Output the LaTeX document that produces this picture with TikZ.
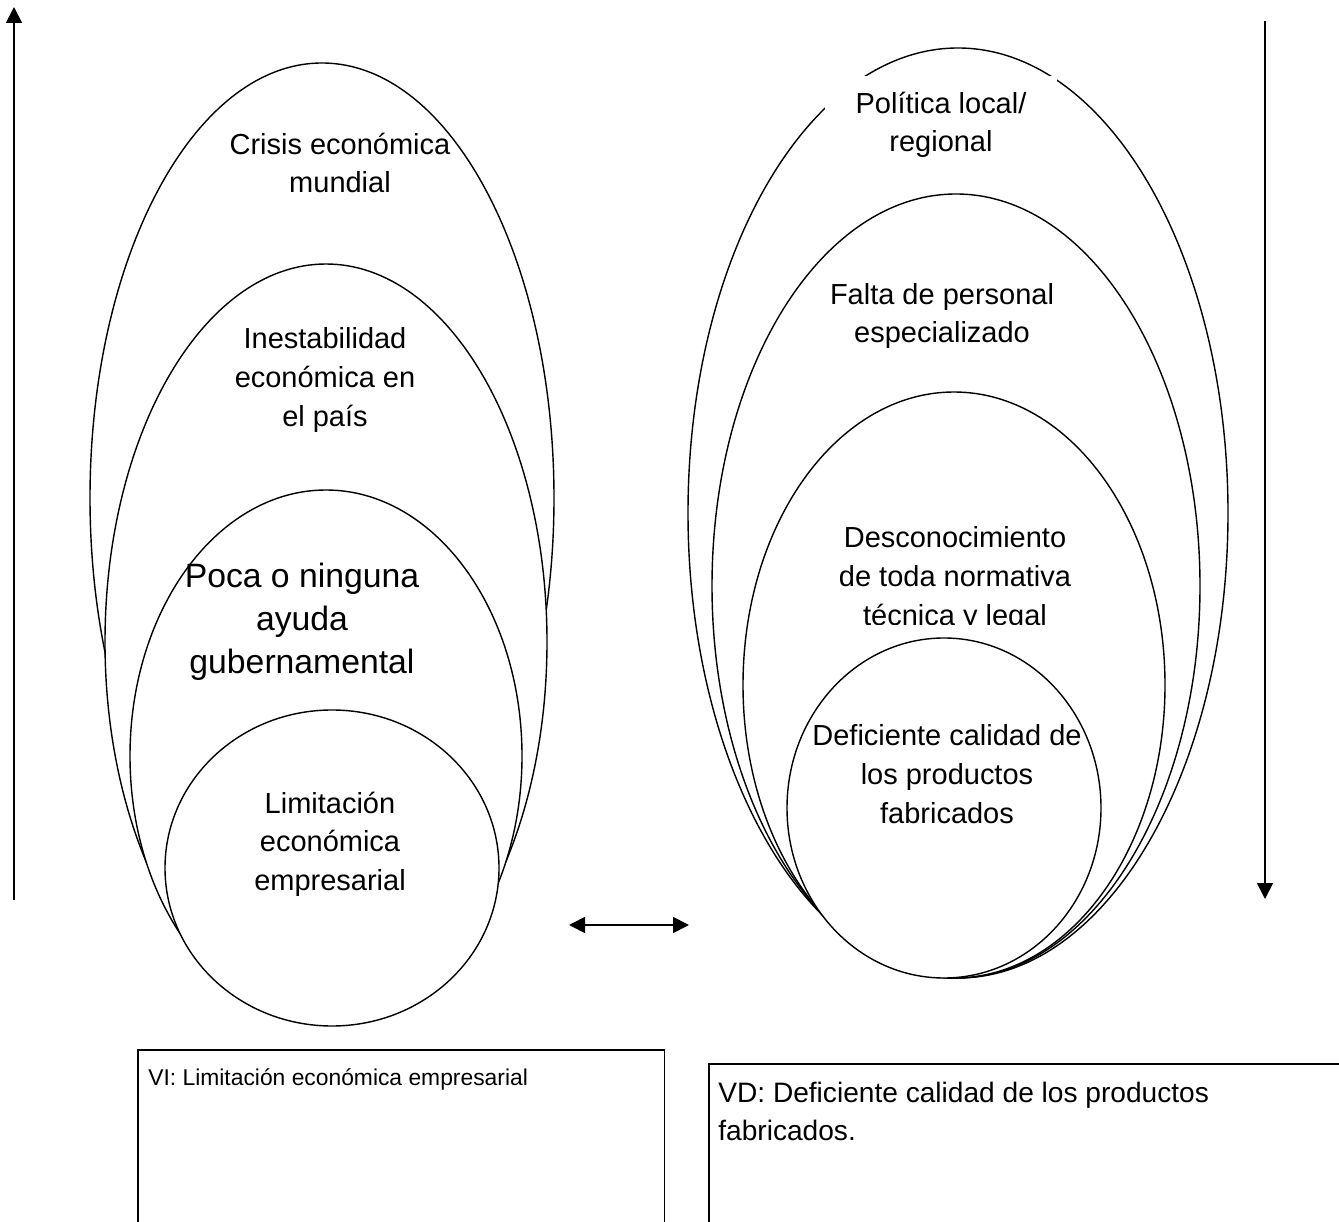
\documentclass[tikz,border=0pt]{standalone}
\usepackage{fontspec}
\setmainfont{Liberation Sans}
\usetikzlibrary{arrows.meta}

\tikzset{
  oval/.style={draw, fill=white, line width=0.8pt},
  ovaltext/.style={align=center, inner sep=0pt, font=\fontsize{16.5}{22}\selectfont},
  bigtext/.style={align=center, inner sep=0pt, font=\fontsize{19.2}{24.4}\selectfont},
  varbox/.style={draw, line width=0.9pt, anchor=north west, minimum height=4cm},
  boxtext/.style={align=left, inner sep=0pt, anchor=north west, font=\fontsize{16}{21.6}\selectfont},
  tip/.tip={Triangle[length=0.32cm, width=0.32cm]},
  arrowline/.style={line width=1pt}
}

\begin{document}
\begin{tikzpicture}[x=0.02cm, y=-0.02cm]
	\useasboundingbox (0,0) rectangle (1339,1222);
	\clip (0,0) rectangle (1339,1222);
	% left group
	\draw[oval] (322,498) ellipse [x radius=232, y radius=435];
	\draw[oval] (326,642) ellipse [x radius=221, y radius=378];
	\draw[oval] (326,756) ellipse [x radius=196, y radius=266];
	\draw[oval] (332,868) ellipse [x radius=167, y radius=158];
	\node[ovaltext] (crisis) at (340,163) {Crisis económica\\mundial};
	\node[ovaltext] (inestab) at (325,380) {Inestabilidad\\económica en\\el país};
	\node[bigtext] (poca) at (302,622) {Poca o ninguna\\ayuda\\gubernamental};
	\node[ovaltext] (limit) at (330,844) {Limitación\\económica\\empresarial};
	% right group
	\draw[oval] (958,513) ellipse [x radius=270, y radius=465];
	\node[ovaltext, fill=white, minimum width=4.64cm, minimum height=1.96cm] (politica) at (941,125) {Política local/\\regional};
	\draw[oval] (956,586) ellipse [x radius=244, y radius=392];
	\draw[oval] (954,685) ellipse [x radius=211, y radius=293];
	\begin{scope}
		\clip (740,450) rectangle (1170,625);
		\node[ovaltext] (descon) at (955,579) {Desconocimiento\\de toda normativa\\técnica y legal};
	\end{scope}
	\draw[oval] (944,808) ellipse [x radius=157, y radius=170];
	\node[ovaltext] (falta) at (942,316) {Falta de personal\\especializado};
	\node[ovaltext] (deficiente) at (947,774) {Deficiente calidad de\\los productos\\fabricados};
	% arrows
	\coordinate (upfoot) at (14,900);
	\coordinate (uptip) at (14,7);
	\coordinate (downtop) at (1265,21);
	\coordinate (downtip) at (1265,899);
	\coordinate (linkL) at (569,925);
	\coordinate (linkR) at (689,925);
	\draw[arrowline, -tip] (upfoot) -- (uptip);
	\draw[arrowline, -tip] (downtop) -- (downtip);
	\draw[arrowline, tip-tip] (linkL) -- (linkR);
	% variable boxes
	\node[varbox, minimum width=10.54cm] (vibox) at (137,1049) {};
	\node[varbox, minimum width=13cm] (vdbox) at (708,1063) {};
	\node[boxtext, font=\fontsize{13}{21.6}\selectfont] (vitext) at ([shift={(0.22cm,-0.39cm)}]vibox.north west) {VI: Limitación económica empresarial};
	\node[boxtext] (vdtext) at ([shift={(0.2cm,-0.37cm)}]vdbox.north west) {VD: Deficiente calidad de los productos\\fabricados.};
\end{tikzpicture}
\end{document}
